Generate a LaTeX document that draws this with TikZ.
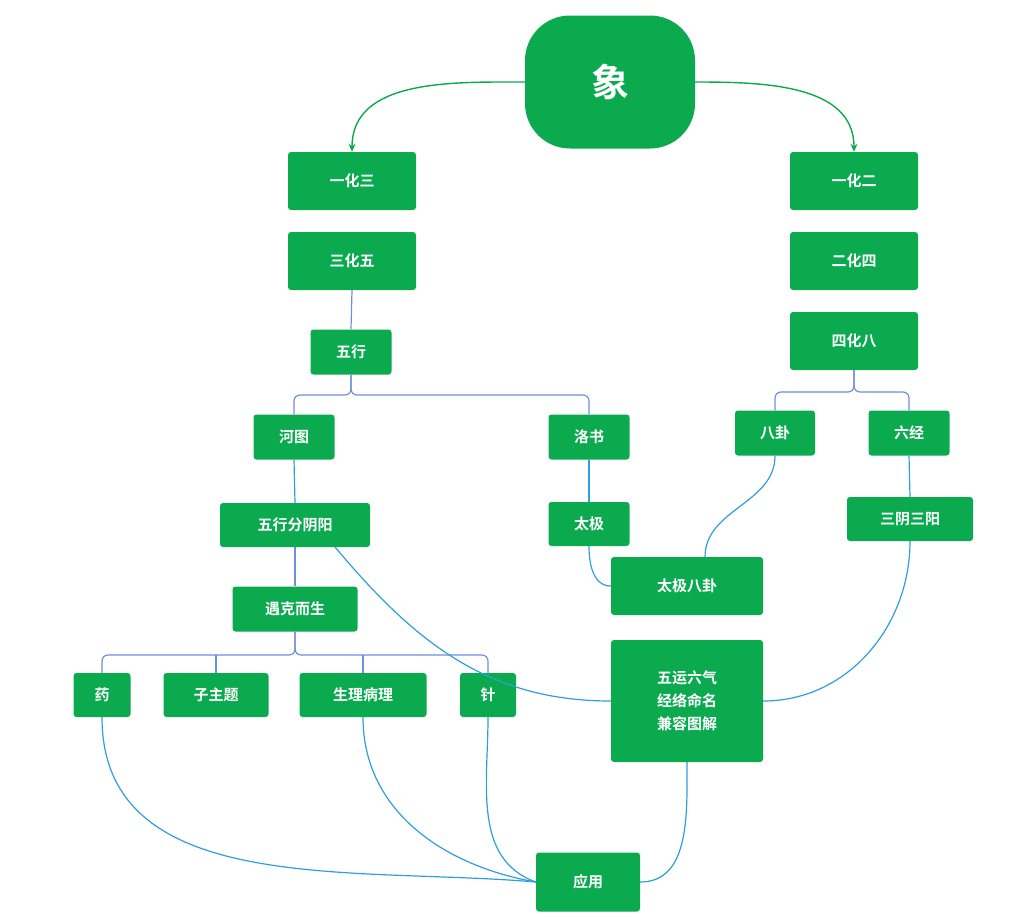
\documentclass[tikz,border=0pt]{standalone}
\usepackage{fontspec}
\setmainfont{Noto Sans CJK SC}[BoldFont={Noto Sans CJK SC Bold}]
\usetikzlibrary{arrows.meta}
\definecolor{gr}{HTML}{0BAA4F}
\definecolor{ln}{HTML}{6F8FDC}
\definecolor{cv}{HTML}{2E9FDC}
\begin{document}
\begin{tikzpicture}[x=1pt,y=-1pt,
  b/.style={fill=gr,draw=none,rounded corners=3pt,text=white,font=\bfseries\fontsize{15}{19}\selectfont,align=center,inner sep=0pt},
  t/.style={draw=ln,line width=1.2pt},
  c/.style={draw=cv,line width=1.2pt},
  a/.style={draw=gr,line width=1.4pt,-{Stealth[length=8pt,width=7pt]}}]
\useasboundingbox (0,0) rectangle (1035,916);
\node[b,rounded corners=45pt,minimum width=170pt,minimum height=133pt,font=\bfseries\fontsize{38}{44}\selectfont] (x) at (610,82) {象};
\node[b,minimum width=128pt,minimum height=58pt] (y3) at (352,181) {一化三};
\node[b,minimum width=128pt,minimum height=58pt] (s5) at (352,261) {三化五};
\node[b,minimum width=81pt,minimum height=45pt] (wx) at (351,352) {五行};
\node[b,minimum width=81pt,minimum height=45pt] (ht) at (294,437) {河图};
\node[b,minimum width=81pt,minimum height=45pt] (ls) at (589,437) {洛书};
\node[b,minimum width=150pt,minimum height=44pt] (fy) at (295,525) {五行分阴阳};
\node[b,minimum width=81pt,minimum height=44pt] (tj) at (589,524) {太极};
\node[b,minimum width=125pt,minimum height=45pt] (yk) at (295,609) {遇克而生};
\node[b,minimum width=57pt,minimum height=44pt] (yao) at (102,695) {药};
\node[b,minimum width=105pt,minimum height=44pt] (zz) at (216,695) {子主题};
\node[b,minimum width=127pt,minimum height=44pt] (sl) at (363,695) {生理病理};
\node[b,minimum width=56pt,minimum height=44pt] (zh) at (488,695) {针};
\node[b,minimum width=152pt,minimum height=58pt] (tb) at (687,586) {太极八卦};
\node[b,minimum width=152pt,minimum height=122pt,font=\bfseries\fontsize{15}{23}\selectfont] (wy) at (687,701) {五运六气\\经络命名\\兼容图解};
\node[b,minimum width=104pt,minimum height=59pt] (yy) at (588,882) {应用};
\node[b,minimum width=128pt,minimum height=58pt] (y2) at (854,181) {一化二};
\node[b,minimum width=128pt,minimum height=58pt] (e4) at (854,261) {二化四};
\node[b,minimum width=128pt,minimum height=58pt] (s8) at (854,341) {四化八};
\node[b,minimum width=80pt,minimum height=45pt] (bg) at (775,433) {八卦};
\node[b,minimum width=81pt,minimum height=45pt] (lj) at (909,433) {六经};
\node[b,minimum width=126pt,minimum height=44pt] (sy) at (910,519) {三阴三阳};
\draw[a] (x.west) to[out=180,in=90] (y3.north);
\draw[a] (x.east) to[out=0,in=90] (y2.north);
\draw[t] (s5.south) -- (wx.north);
\draw[t,rounded corners=6pt] (wx.south) |- (ht.north|-0,395) -- (ht.north);
\draw[t,rounded corners=6pt] (wx.south) |- (ls.north|-0,395) -- (ls.north);
\draw[t,rounded corners=6pt] (s8.south) |- (bg.north|-0,392) -- (bg.north);
\draw[t,rounded corners=6pt] (s8.south) |- (lj.north|-0,392) -- (lj.north);
\draw[t] (fy.south) -- (yk.north);
\draw[t,rounded corners=6pt] (yk.south) |- (yao.north|-0,655) -- (yao.north);
\draw[t,rounded corners=6pt] (yk.south) |- (zh.north|-0,655) -- (zh.north);
\draw[t] (zz.north|-0,655) -- (zz.north);
\draw[t] (sl.north|-0,655) -- (sl.north);
\draw[c] (ht.south) -- (fy.north);
\draw[c] (ls.south) -- (tj.north);
\draw[c] (lj.south) -- (sy.north);
\draw[c] (tj.south) to[out=-90,in=180] (tb.west);
\draw[c] (bg.south) to[out=-90,in=90] (705,557);
\draw[c] (335,547) to[out=-50,in=180] (wy.west);
\draw[c] (sy.south) to[out=-90,in=0] (wy.east);
\draw[c] (wy.south) to[out=-90,in=0] (yy.east);
\draw[c] (yao.south) to[out=-90,in=175] (yy.west);
\draw[c] (sl.south) to[out=-90,in=170] (yy.west);
\draw[c] (zh.south) to[out=-90,in=160] (yy.west);
\end{tikzpicture}
\end{document}
